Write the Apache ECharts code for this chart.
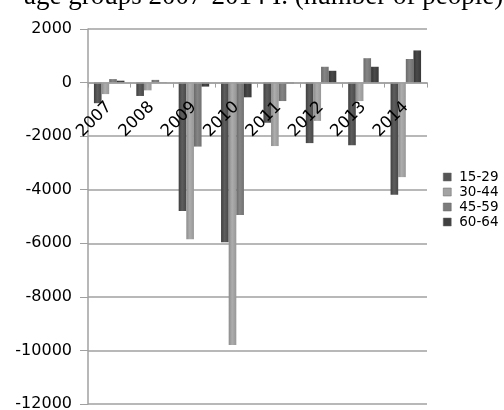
<!DOCTYPE html>
<html><head><meta charset="utf-8">
<script src="https://cdn.jsdelivr.net/npm/echarts@6/dist/echarts.min.js"></script>
<style>html,body{margin:0;padding:0;background:#fff}#c{width:504px;height:410px}</style>
</head><body><div id="c"></div>
<script>
const titleText = 'age groups 2007-2014 I. (number of people)';
const categories = ['2007','2008','2009','2010','2011','2012','2013','2014'];
const seriesNames = ['15-29','30-44','45-59','60-64'];
const v15_29 = [-770, -500, -4790, -5960, -1500, -2260, -2340, -4190];
const v30_44 = [-430, -290, -5850, -9800, -2370, -1430, -690, -3530];
const v45_59 = [130, 100, -2390, -4940, -690, 590, 910, 880];
const v60_64 = [70, 10, -150, -550, -30, 440, 590, 1200];
const yTicks = [-12000, -10000, -8000, -6000, -4000, -2000, 0, 2000];

const colors = [
  ['#3f3f3f','#5e5e5e','#474747'],
  ['#8c8c8c','#adadad','#979797'],
  ['#6a6a6a','#858585','#717171'],
  ['#333333','#4a4a4a','#383838']
];
const legendColors = ['#555555','#a3a3a3','#7c7c7c','#404040'];
const values = [v15_29, v30_44, v45_59, v60_64];

function grad(c){
  return new echarts.graphic.LinearGradient(0,0,1,0,[
    {offset:0,color:c[0]},{offset:0.45,color:c[1]},{offset:1,color:c[2]}]);
}

const gridTop = 29, gridBottom = 6, H = 410;
const gridH = H - gridTop - gridBottom;
const yMin = -12000, yMax = 2000;
const zeroFromBottom = gridH * (0 - yMin) / (yMax - yMin);

const chart = echarts.init(document.getElementById('c'), null, {renderer:'canvas'});
const font = 'DejaVu Sans';
chart.setOption({
  animation:false,
  title:{text:titleText,left:24,top:-17,padding:0,
    textStyle:{fontFamily:'Liberation Serif',fontSize:27,fontWeight:'normal',color:'#000'}},
  grid:{left:88,right:77,top:gridTop,bottom:gridBottom,containLabel:false,outerBoundsMode:'none'},
  legend:{orient:'vertical',left:443,top:170,itemWidth:8,itemHeight:8,itemGap:1,padding:0,
    icon:'rect',
    data:seriesNames.map((n,i)=>({name:n,itemStyle:{color:legendColors[i],borderColor:'#666',borderWidth:0.5}})),
    textStyle:{fontFamily:font,fontSize:13.5,color:'#000',lineHeight:14,padding:[0,0,0,3]}},
  xAxis:{type:'category',data:categories,z:3,position:'bottom',offset:-zeroFromBottom,
    axisLine:{onZero:false,lineStyle:{color:'#a0a0a0',width:1.5}},
    axisTick:{show:true,length:5,lineStyle:{color:'#a0a0a0'}},
    axisLabel:{rotate:45,margin:22,fontFamily:font,fontSize:16.5,color:'#000'},
    splitLine:{show:false}},
  yAxis:{type:'value',min:yMin,max:yMax,interval:2000,
    axisLine:{show:true,lineStyle:{color:'#a0a0a0',width:1.5}},
    axisTick:{show:true,length:8,lineStyle:{color:'#a0a0a0'}},
    axisLabel:{margin:16,fontFamily:font,fontSize:16,color:'#000',
      formatter:v=>yTicks.includes(v)?String(v):''},
    splitLine:{lineStyle:{color:'#b8b8b8',width:2}}},
  series:values.map((d,i)=>({
    name:seriesNames[i],type:'bar',data:d,barGap:'0%',barCategoryGap:'28%',
    itemStyle:{color:grad(colors[i])}
  }))
});
</script></body></html>
